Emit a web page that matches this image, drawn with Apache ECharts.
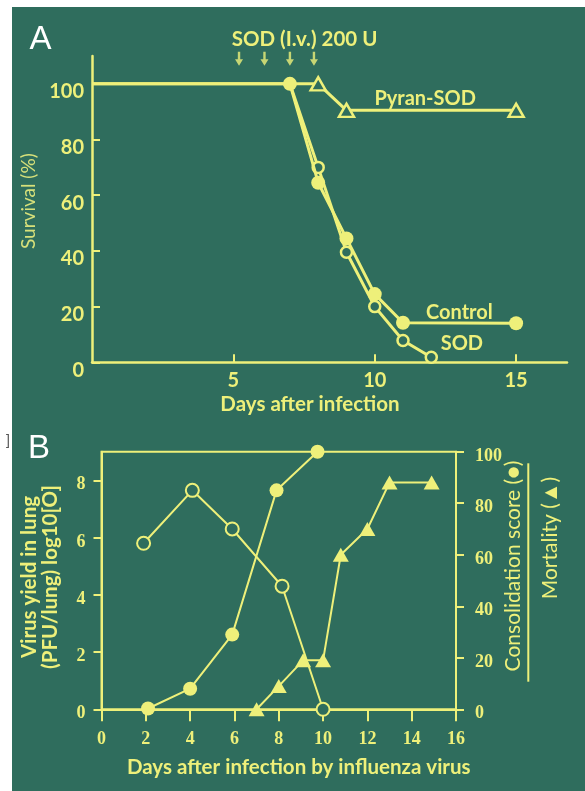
<!DOCTYPE html>
<html><head><meta charset="utf-8">
<script src="https://cdn.jsdelivr.net/npm/echarts@6/dist/echarts.min.js"></script>
<style>html,body{margin:0;padding:0;background:#fff}#c{width:585px;height:791px}</style>
</head><body><div id="c"></div>
<script>
// ---------- Panel A data (survival %) ----------
const controlA = [[0,100],[7,100],[8,64.5],[9,44.5],[10,24.5],[11,14.2],[15,14]];
const sodA = [[7,100],[8,70],[9,39.5],[10,20],[11,7.8],[12,1.8]];
const pyranA = [[0,100],[8,100],[9,90.5],[15,90.5]];
const arrowDays = [5.2,6.1,7.0,7.85];
const arrowLevel = [109,109,109,109];
const xTicksA = [5,10,15];
const yTicksA = [0,20,40,60,80,100];
// ---------- Panel B data ----------
const virusB = [[1.9,5.8],[4.1,7.65],[5.9,6.3],[8.15,4.3],[10,0]];
const consolidationB = [[2.1,0.3],[4,8],[5.9,29],[7.9,85],[9.75,100]];
const mortalityB = [[7,0],[8,9],[9.1,19],[10,19],[10.8,60],[12,70],[13,88],[14.9,88]];
const xTicksB = [0,2,4,6,8,10,12,14,16];
const yLeftTicksB = [0,2,4,6,8];
const yRightTicksB = [0,20,40,60,80,100];

const BG = '#2f6d5d';
const Y = '#eef07a';
const YM = '#d7e07a';
const SANS = 'Lato';
const SERIF = 'Liberation Serif';

function hideFirst(arr){ return arr.map((p,i)=> i===0 ? {value:p, symbol:'none'} : p); }

const chart = echarts.init(document.getElementById('c'), null, {renderer:'canvas'});
const sansLbl = {color:Y, fontFamily:SANS, fontWeight:'bold', fontSize:20};
const sansTitle = {color:Y, fontFamily:SANS, fontWeight:'bold', fontSize:20.5};
const serifLbl = {color:Y, fontFamily:SERIF, fontWeight:'bold', fontSize:18};

chart.setOption({
  animation:false,
  backgroundColor:'#ffffff',
  grid:[
    {left:92, right:18, top:56, bottom:428.7},
    {left:101.5, right:129, top:451.7, bottom:81.7, show:true, borderColor:Y, borderWidth:2, backgroundColor:'transparent'}
  ],
  xAxis:[
    {type:'value', gridIndex:0, min:0, max:16.8,
     axisLine:{show:true, onZero:false, lineStyle:{color:Y, width:2.5}},
     axisTick:{show:true, inside:true, length:8, customValues:xTicksA, lineStyle:{color:Y, width:2}},
     axisLabel:Object.assign({customValues:xTicksA, margin:8}, sansLbl),
     splitLine:{show:false},
     name:'Days after infection', nameLocation:'middle', nameGap:32,
     nameTextStyle:Object.assign({padding:[0,39,0,0]}, sansTitle)},
    {type:'value', gridIndex:1, min:0, max:16, interval:2,
     axisLine:{show:true, onZero:false, lineStyle:{color:Y, width:2}},
     axisTick:{show:true, inside:false, length:12, customValues:xTicksB, lineStyle:{color:Y, width:2}},
     axisLabel:Object.assign({customValues:xTicksB, margin:21}, serifLbl),
     splitLine:{show:false},
     name:'Days after infection by influenza virus', nameLocation:'middle', nameGap:48,
     nameTextStyle:Object.assign({padding:[0,0,0,40]}, sansTitle)}
  ],
  yAxis:[
    {type:'value', gridIndex:0, min:0, max:110,
     axisLine:{show:true, onZero:false, lineStyle:{color:Y, width:2.5}},
     axisTick:{show:true, inside:true, length:8, customValues:yTicksA, lineStyle:{color:Y, width:2}},
     axisLabel:Object.assign({customValues:yTicksA, margin:8, verticalAlign:'top', lineHeight:16}, sansLbl),
     splitLine:{show:false},
     name:'Survival (%)', nameLocation:'middle', nameGap:38,
     nameTextStyle:{color:YM, fontFamily:SANS, fontWeight:'normal', fontSize:19, padding:[0,0,0,16]}},
    {type:'value', gridIndex:1, min:0, max:9, position:'left',
     axisLine:{show:true, onZero:false, lineStyle:{color:Y, width:2}},
     axisTick:{show:true, inside:false, length:8, customValues:yLeftTicksB, lineStyle:{color:Y, width:2}},
     axisLabel:Object.assign({customValues:yLeftTicksB, margin:16, verticalAlign:'top', lineHeight:9}, serifLbl),
     splitLine:{show:false},
     name:'Virus yield in lung\n(PFU/lung) log10[O]', nameLocation:'middle', nameGap:41,
     nameTextStyle:{color:Y, fontFamily:SANS, fontWeight:'bold', fontSize:20.5, lineHeight:21, padding:[0,0,0,7]}},
    {type:'value', gridIndex:1, min:0, max:100, position:'right',
     axisLine:{show:true, onZero:false, lineStyle:{color:Y, width:2}},
     axisTick:{show:true, inside:false, length:8, customValues:yRightTicksB, lineStyle:{color:Y, width:2}},
     axisLabel:Object.assign({customValues:yRightTicksB, margin:19, verticalAlign:'top', lineHeight:9}, serifLbl),
     splitLine:{show:false}}
  ],
  series:[
    {type:'line', xAxisIndex:0, yAxisIndex:0, data:hideFirst(pyranA), symbol:'triangle', symbolSize:[15,13],
     lineStyle:{color:Y, width:3}, itemStyle:{color:BG, borderColor:Y, borderWidth:2.5}, z:3},
    {type:'line', xAxisIndex:0, yAxisIndex:0, data:hideFirst(sodA), symbol:'circle', symbolSize:11,
     lineStyle:{color:Y, width:3}, itemStyle:{color:BG, borderColor:Y, borderWidth:2.5}, z:4},
    {type:'line', xAxisIndex:0, yAxisIndex:0, data:hideFirst(controlA), symbol:'circle', symbolSize:14,
     lineStyle:{color:Y, width:3}, itemStyle:{color:Y}, z:5},
    {type:'scatter', xAxisIndex:0, yAxisIndex:0, data:arrowDays.map((d,i)=>[d, arrowLevel[i]]), clip:false,
     symbol:'path://M3.5,0 L6.5,0 L6.5,8 L10,8 L5,15 L0,8 L3.5,8 Z', symbolSize:[8,14], itemStyle:{color:Y}},
    {type:'line', xAxisIndex:1, yAxisIndex:1, data:virusB, symbol:'circle', symbolSize:13,
     lineStyle:{color:Y, width:2}, itemStyle:{color:BG, borderColor:Y, borderWidth:2}, z:3},
    {type:'line', xAxisIndex:1, yAxisIndex:2, data:consolidationB, symbol:'circle', symbolSize:14,
     lineStyle:{color:Y, width:2}, itemStyle:{color:Y}, z:4},
    {type:'line', xAxisIndex:1, yAxisIndex:2, data:mortalityB, symbol:'triangle', symbolSize:[16,14],
     lineStyle:{color:Y, width:2}, itemStyle:{color:Y}, z:4}
  ],
  graphic:[
    {type:'rect', shape:{x:12, y:7, width:573, height:784}, style:{fill:BG}, z:-100, silent:true},
    {type:'text', x:40.5, y:40, style:{text:'A', fill:'#ffffff', font:'normal 33px "Liberation Sans"', align:'center', verticalAlign:'middle'}},
    {type:'text', x:39, y:449, style:{text:'B', fill:'#ffffff', font:'normal 33px "Liberation Sans"', align:'center', verticalAlign:'middle'}},
    {type:'text', x:8, y:441, style:{text:']', fill:'#555555', font:'normal 14px "Liberation Sans"', align:'center', verticalAlign:'middle'}},
    {type:'text', x:231.7, y:39, style:{text:'SOD (I.v.) 200 U', fill:Y, font:'bold 20.5px Lato', align:'left', verticalAlign:'middle'}},
    {type:'text', x:374.4, y:99, style:{text:'Pyran-SOD', fill:Y, font:'bold 20px Lato', align:'left', verticalAlign:'middle'}},
    {type:'text', x:426, y:312.7, style:{text:'Control', fill:Y, font:'bold 20px Lato', align:'left', verticalAlign:'middle'}},
    {type:'text', x:440.7, y:343.3, style:{text:'SOD', fill:Y, font:'bold 20px Lato', align:'left', verticalAlign:'middle'}},
    {type:'text', x:513, y:566, rotation:Math.PI/2, style:{text:'Consolidation score (\u25CF)', fill:Y, font:'normal 21px Lato', align:'center', verticalAlign:'middle'}},
    {type:'text', x:550, y:538, rotation:Math.PI/2, style:{text:'Mortality (\u25B2)', fill:Y, font:'normal 21px Lato', align:'center', verticalAlign:'middle'}},
    {type:'line', shape:{x1:528.3, y1:463.3, x2:528.3, y2:681.7}, style:{stroke:Y, lineWidth:2}}
  ]
});
</script></body></html>
